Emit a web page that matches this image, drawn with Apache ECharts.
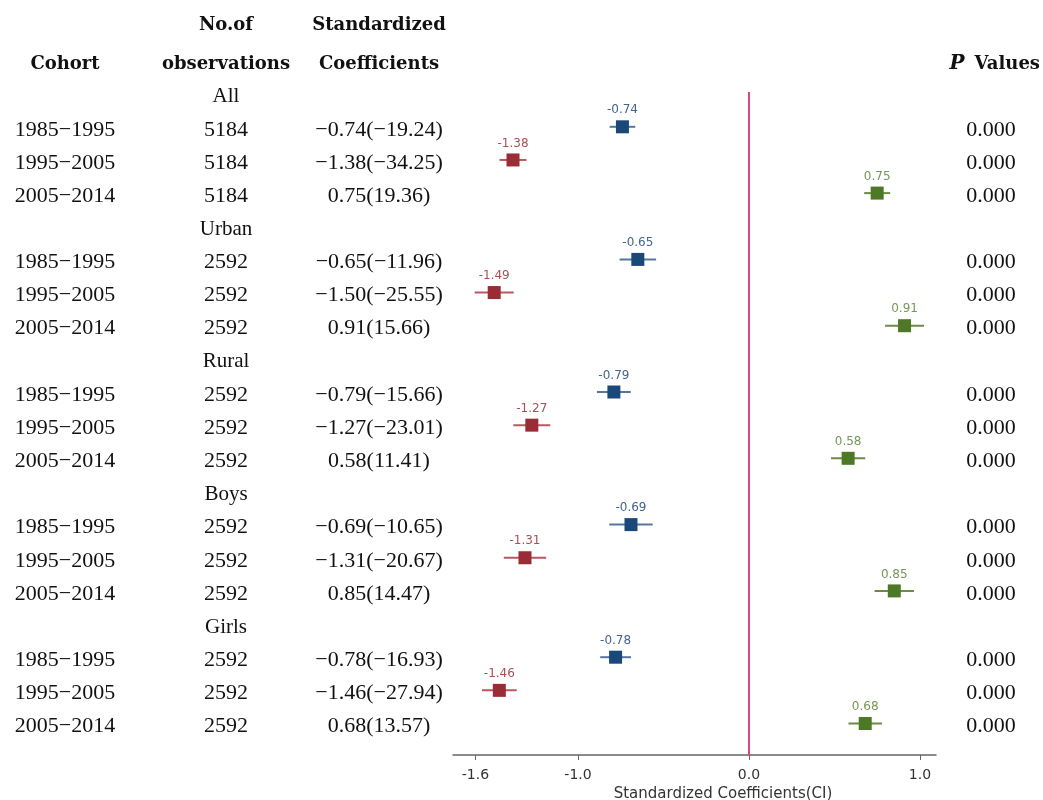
<!DOCTYPE html>
<html>
<head>
<meta charset="utf-8">
<script src="https://cdn.jsdelivr.net/npm/echarts@6/dist/echarts.min.js"></script>
<style>
  html, body { margin: 0; padding: 0; background: #fff; }
  #chart { width: 1043px; height: 800px; }
</style>
</head>
<body>
<div id="chart"></div>
<script>
// Sub-samples and birth cohorts
const groups = ['All', 'Urban', 'Rural', 'Boys', 'Girls'];
const cohorts = ['1985\u22121995', '1995\u22122005', '2005\u22122014'];
const nObs = [5184, 2592, 2592, 2592, 2592];

// Table values: standardized coefficient and t statistic, one per group x cohort
const tableCoef = [-0.74, -1.38, 0.75, -0.65, -1.50, 0.91, -0.79, -1.27, 0.58, -0.69, -1.31, 0.85, -0.78, -1.46, 0.68];
const tStat = [-19.24, -34.25, 19.36, -11.96, -25.55, 15.66, -15.66, -23.01, 11.41, -10.65, -20.67, 14.47, -16.93, -27.94, 13.57];
const pValues = ['0.000', '0.000', '0.000', '0.000', '0.000', '0.000', '0.000', '0.000', '0.000', '0.000', '0.000', '0.000', '0.000', '0.000', '0.000'];

// Plotted point estimates and confidence intervals
const estimate = [-0.74, -1.38, 0.75, -0.65, -1.49, 0.91, -0.79, -1.27, 0.58, -0.69, -1.31, 0.85, -0.78, -1.46, 0.68];
const ciLow  = [-0.815, -1.459, 0.674, -0.757, -1.604, 0.796, -0.889, -1.378, 0.480, -0.817, -1.434, 0.735, -0.870, -1.562, 0.582];
const ciHigh = [-0.665, -1.301, 0.826, -0.543, -1.376, 1.024, -0.691, -1.162, 0.680, -0.563, -1.186, 0.965, -0.690, -1.358, 0.778];

const xTicks = [-1.6, -1.0, 0.0, 1.0];

const markerColors = ['#1a4878', '#9a2c35', '#4d7826'];
const barColors = ['#5676a0', '#b9585f', '#6b8a46'];
const labelColors = ['#44648e', '#ab4f56', '#769758'];

const serif = '"Liberation Serif", "Times New Roman", serif';
const serifBold = '"DejaVu Serif", "Liberation Serif", serif';
const sans = '"DejaVu Sans", "Liberation Sans", Arial, sans-serif';

// Row index on the vertical scale: each group has a header row then three cohort rows
const rowOf = (g, c) => g * 4 + 1 + c;

const pointSeries = cohorts.map((name, c) => ({
  name,
  type: 'scatter',
  symbol: 'rect',
  symbolSize: 13,
  z: 5,
  itemStyle: { color: markerColors[c], opacity: 1 },
  label: {
    show: true,
    position: 'top',
    distance: 4,
    fontFamily: sans,
    fontSize: 12,
    color: labelColors[c],
    formatter: p => p.value[0].toFixed(2)
  },
  data: groups.map((g, gi) => [estimate[gi * 3 + c], rowOf(gi, c)])
}));

const ciSeries = {
  type: 'custom',
  z: 3,
  renderItem: (params, api) => {
    const a = api.coord([api.value(0), api.value(2)]);
    const b = api.coord([api.value(1), api.value(2)]);
    return {
      type: 'line',
      shape: { x1: a[0], y1: a[1], x2: b[0], y2: b[1] },
      style: { stroke: barColors[api.value(3)], lineWidth: 2 }
    };
  },
  encode: { x: [0, 1], y: 2 },
  data: estimate.map((v, i) => [ciLow[i], ciHigh[i], rowOf(Math.floor(i / 3), i % 3), i % 3])
};

const zeroLine = {
  type: 'line',
  data: [],
  silent: true,
  markLine: {
    silent: true,
    symbol: 'none',
    label: { show: false },
    lineStyle: { color: '#e0457b', width: 2, type: 'solid' },
    data: [{ xAxis: 0 }]
  }
};

const chart = echarts.init(document.getElementById('chart'), null, { renderer: 'canvas' });

chart.setOption({
  animation: false,
  backgroundColor: '#ffffff',
  grid: { left: 453, right: 107, top: 92, bottom: 45, containLabel: false, outerBoundsMode: 'none' },
  xAxis: {
    type: 'value',
    min: -1.731,
    max: 1.094,
    name: 'Standardized Coefficients(CI)',
    nameLocation: 'middle',
    nameGap: 30,
    nameTextStyle: {
      fontFamily: sans,
      fontSize: 15,
      color: '#333',
      padding: [0, 0, 0, 57]
    },
    splitLine: { show: false },
    axisLine: { show: true, onZero: false, lineStyle: { color: '#666', width: 1.5 } },
    axisTick: { show: true, length: 5, customValues: xTicks, lineStyle: { color: '#666' } },
    axisLabel: {
      customValues: xTicks,
      margin: 13,
      fontFamily: sans,
      fontSize: 14,
      color: '#333',
      formatter: v => v.toFixed(1)
    }
  },
  yAxis: {
    type: 'value',
    inverse: true,
    min: -0.05,
    max: 19.95,
    show: false,
    splitLine: { show: false }
  },
  series: [zeroLine, ciSeries, ...pointSeries]
});

// Table columns on the left and p values on the right, placed on the chart's row scale
const colCohort = 65, colObs = 226, colCoef = 379, colP = 991;
const rowY = k => chart.convertToPixel({ yAxisIndex: 0 }, k);
const fmt = v => (v < 0 ? '\u2212' : '') + Math.abs(v).toFixed(2);

const texts = [];
const addText = (x, y, text, font, size, weight, align) => {
  texts.push({
    type: 'text',
    x, y,
    style: {
      text,
      fontFamily: font,
      fontSize: size,
      fontWeight: weight || 'normal',
      fill: '#111',
      align: align || 'center',
      verticalAlign: 'middle'
    }
  });
};

addText(colObs, 25, 'No.of', serifBold, 18, 'bold');
addText(colCoef, 25, 'Standardized', serifBold, 18, 'bold');
addText(colCohort, 64, 'Cohort', serifBold, 18, 'bold');
addText(colObs, 64, 'observations', serifBold, 18, 'bold');
addText(colCoef, 64, 'Coefficients', serifBold, 18, 'bold');
texts.push({
  type: 'text',
  x: 1040, y: 64,
  style: {
    text: '{p|P}{v|Values}',
    align: 'right',
    verticalAlign: 'middle',
    rich: {
      p: { fontFamily: serifBold, fontSize: 20, fontWeight: 'bold', fontStyle: 'italic', fill: '#111', padding: [0, 10, 0, 0] },
      v: { fontFamily: serifBold, fontSize: 18, fontWeight: 'bold', fill: '#111' }
    }
  }
});

groups.forEach((g, gi) => {
  addText(colObs, rowY(gi * 4) + 3, g, serif, 21);
  cohorts.forEach((c, ci) => {
    const i = gi * 3 + ci;
    const y = rowY(rowOf(gi, ci)) + 3;
    addText(colCohort, y, c, serif, 22);
    addText(colObs, y, String(nObs[gi]), serif, 22);
    addText(colCoef, y, fmt(tableCoef[i]) + '(' + fmt(tStat[i]) + ')', serif, 22);
    addText(colP, y, pValues[i], serif, 22);
  });
});

chart.setOption({ graphic: { elements: texts } });
</script>
</body>
</html>
